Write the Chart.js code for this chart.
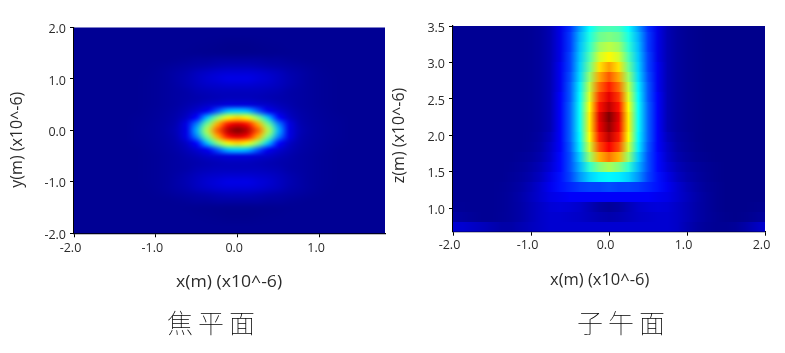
<!DOCTYPE html>
<html>
<head>
<meta charset="utf-8">
<script src="https://cdn.jsdelivr.net/npm/chart.js@4/dist/chart.umd.min.js"></script>
<style>
html, body { margin: 0; padding: 0; background: #fff; }
body { position: relative; width: 785px; height: 353px; overflow: hidden; }
canvas { position: absolute; left: 0; top: 0; }
.caption { position: absolute; top: 306px; font: 100 26px/32px "Noto Sans CJK SC", sans-serif; letter-spacing: 5px; color: #000; white-space: nowrap; }
</style>
</head>
<body>
<canvas id="focal" width="785" height="353"></canvas>
<canvas id="meridian" width="785" height="353"></canvas>
<div class="caption" style="left:167px">焦平面</div>
<div class="caption" style="left:577px">子午面</div>
<script>
// focal plane, percent of peak. rows run from y=2.0 down to y=-2.0, columns from x=-2.0 in steps of 0.125
const focalStepX = 0.125;
const focalStepY = 0.125;
const focalRows = [
  [2,2,2,2,2,2,2,2,2,2,2,2,2,2,2,2,2,2,2,2,2,2,2,2,2,2,2,2,2,2,2,2],
  [2,2,2,2,2,2,2,2,2,2,2,2,2,2,2,2,2,2,2,2,2,2,2,2,2,2,2,2,2,2,2,2],
  [2,2,2,2,2,2,2,2,2,2,2,2,2,1.9,1.8,1.6,1.6,1.6,1.8,1.9,2,2,2,2,2,2,2,2,2,2,2,2],
  [2,2,2,2,2,2,2,2,2,2,2,2,1.8,1.7,1.5,1.3,1.3,1.3,1.5,1.7,1.8,2,2,2,2,2,2,2,2,2,2,2],
  [2,2,2,2,2,2,2,2,2,2,2,1.9,1.8,1.7,1.6,1.5,1.5,1.5,1.6,1.7,1.8,1.9,2,2,2,2,2,2,2,2,2,2],
  [2,2,2,2,2,2,2,2,2,2,2.2,2.5,3,3,3.5,3.5,3.5,3.5,3.5,3,3,2.5,2.2,2,2,2,2,2,2,2,2,2],
  [2,2,2,2,2,2,2,2,2.2,2.5,3,3.5,4,4.5,5,5.5,5.5,5.5,5,4.5,4,3.5,3,2.5,2.2,2,2,2,2,2,2,2],
  [2,2,2,2,2,2,2,2.1,2.4,3,3.8,4.6,6,7,8,8.5,8.5,8.5,8,7,6,4.6,3.8,3,2.4,2.1,2,2,2,2,2,2],
  [2,2,2,2,2,2,2,2.2,2.5,3,4,5,6.5,8,9,10,10,10,9,8,6.5,5,4,3,2.5,2.2,2,2,2,2,2,2],
  [2,2,2,2,2,2,2,2.2,2.5,3,3.8,4.8,6,7,7.5,8,8,8,7.5,7,6,4.8,3.8,3,2.5,2.2,2,2,2,2,2,2],
  [2,2,2,2,2,2,2,2.2,2.5,3,3.5,4,5,5.5,6,6,6,6,6,5.5,5,4,3.5,3,2.5,2.2,2,2,2,2,2,2],
  [2,2,2,2,2,2,2,2.2,2.5,3,3.5,4,4.5,5,5.5,6,6,6,5.5,5,4.5,4,3.5,3,2.5,2.2,2,2,2,2,2,2],
  [2,2,2,2,2,2,2,2.2,2.5,3,3.5,4.5,5.5,7,8,9,9,9,8,7,5.5,4.5,3.5,3,2.5,2.2,2,2,2,2,2,2],
  [2,2,2,2,2,2,2,2.3,2.7,3.2,4,5.5,8,11,21,31,33,31,21,11,8,5.5,4,3.2,2.7,2.3,2,2,2,2,2,2],
  [2,2,2,2,2,2,2.2,2.4,2.8,3.4,4.5,7,13,31,50,61,66,61,50,31,13,7,4.5,3.4,2.8,2.4,2.2,2,2,2,2,2],
  [2,2,2,2,2,2,2.3,2.5,3,3.6,5,10,25,48,70,85,90,85,70,48,25,10,5,3.6,3,2.5,2.3,2,2,2,2,2],
  [2,2,2,2,2,2,2.3,2.6,3,3.8,5.5,10,30,55,78,94,100,94,78,55,30,10,5.5,3.8,3,2.6,2.3,2,2,2,2,2],
  [2,2,2,2,2,2,2.3,2.5,3,3.6,5,10,25,48,70,85,90,85,70,48,25,10,5,3.6,3,2.5,2.3,2,2,2,2,2],
  [2,2,2,2,2,2,2.2,2.4,2.8,3.4,4.5,7,13,31,50,61,66,61,50,31,13,7,4.5,3.4,2.8,2.4,2.2,2,2,2,2,2],
  [2,2,2,2,2,2,2,2.3,2.7,3.2,4,5.5,8,11,21,31,33,31,21,11,8,5.5,4,3.2,2.7,2.3,2,2,2,2,2,2],
  [2,2,2,2,2,2,2,2.2,2.5,3,3.5,4.5,5.5,7,8,9,9,9,8,7,5.5,4.5,3.5,3,2.5,2.2,2,2,2,2,2,2],
  [2,2,2,2,2,2,2,2.2,2.5,3,3.5,4,4.5,5,5.5,6,6,6,5.5,5,4.5,4,3.5,3,2.5,2.2,2,2,2,2,2,2],
  [2,2,2,2,2,2,2,2.2,2.5,3,3.5,4,5,5.5,6,6,6,6,6,5.5,5,4,3.5,3,2.5,2.2,2,2,2,2,2,2],
  [2,2,2,2,2,2,2,2.2,2.5,3,3.8,4.8,6,7,7.5,8,8,8,7.5,7,6,4.8,3.8,3,2.5,2.2,2,2,2,2,2,2],
  [2,2,2,2,2,2,2,2.2,2.5,3,4,5,6.5,8,9,10,10,10,9,8,6.5,5,4,3,2.5,2.2,2,2,2,2,2,2],
  [2,2,2,2,2,2,2,2.1,2.4,3,3.8,4.6,6,7,8,8.5,8.5,8.5,8,7,6,4.6,3.8,3,2.4,2.1,2,2,2,2,2,2],
  [2,2,2,2,2,2,2,2,2.2,2.5,3,3.5,4,4.5,5,5.5,5.5,5.5,5,4.5,4,3.5,3,2.5,2.2,2,2,2,2,2,2,2],
  [2,2,2,2,2,2,2,2,2,2,2.2,2.5,3,3,3.5,3.5,3.5,3.5,3.5,3,3,2.5,2.2,2,2,2,2,2,2,2,2,2],
  [2,2,2,2,2,2,2,2,2,2,2,1.9,1.8,1.7,1.6,1.5,1.5,1.5,1.6,1.7,1.8,1.9,2,2,2,2,2,2,2,2,2,2],
  [2,2,2,2,2,2,2,2,2,2,2,2,1.8,1.7,1.5,1.3,1.3,1.3,1.5,1.7,1.8,2,2,2,2,2,2,2,2,2,2,2],
  [2,2,2,2,2,2,2,2,2,2,2,2,2,1.9,1.8,1.6,1.6,1.6,1.8,1.9,2,2,2,2,2,2,2,2,2,2,2,2],
  [2,2,2,2,2,2,2,2,2,2,2,2,2,2,2,2,2,2,2,2,2,2,2,2,2,2,2,2,2,2,2,2],
  [2,2,2,2,2,2,2,2,2,2,2,2,2,2,2,2,2,2,2,2,2,2,2,2,2,2,2,2,2,2,2,2]
];

// meridian plane, percent of peak. rows run from z=3.486 down in steps of 0.1374
const meridianStepX = 0.125;
const meridianStepZ = 0.1374;
const meridianTopZ = 3.486;
const meridianRows = [
  [2,2,2,2,2,2,2,2,2.2,3,5,10,17,28,38,44,45,44,38,28,17,10,5,3,2,1.5,1.2,1.2,1.2,1.2,1.2,1.2,1.2],
  [2,2,2,2,2,2,2,2,2.2,3,5,10,18,30,40,48,50,48,40,30,18,10,5,3,2,1.5,1.2,1.2,1.2,1.2,1.2,1.2,1.2],
  [2,2,2,2,2,2,2,2,2.2,3,5,10,18,31,42,53,56,53,42,31,18,10,5,3,2,1.5,1.2,1.2,1.2,1.2,1.2,1.2,1.2],
  [2,2,2,2,2,2,2,2,2.2,3,5,10,19,32,45,58,63,58,45,32,19,10,5,3,2,1.5,1.2,1.2,1.2,1.2,1.2,1.2,1.2],
  [2,2,2,2,2,2,2,2,2.2,3,5,11,19,33,48,65,72,65,48,33,19,11,5,3,2,1.5,1.2,1.2,1.2,1.2,1.2,1.2,1.2],
  [2,2,2,2,2,2,2,2,2.2,3,5,11,20,34,52,71,79,71,52,34,20,11,5,3,2,1.5,1.2,1.2,1.2,1.2,1.2,1.2,1.2],
  [2,2,2,2,2,2,2,2,2.2,3,5,11,21,36,56,77,85,77,56,36,21,11,5,3,2,1.5,1.2,1.2,1.2,1.2,1.2,1.2,1.2],
  [2,2,2,2,2,2,2,2,2.2,3,5,12,21,37,59,82,90,82,59,37,21,12,5,3,2,1.5,1.2,1.2,1.2,1.2,1.2,1.2,1.2],
  [2,2,2,2,2,2,2,2,2.2,3,5,12,22,38,62,86,94,86,62,38,22,12,5,3,2,1.5,1.2,1.2,1.2,1.2,1.2,1.2,1.2],
  [2,2,2,2,2,2,2,2,2.2,3,5,12,22,38,64,90,100,90,64,38,22,12,5,3,2,1.5,1.2,1.2,1.2,1.2,1.2,1.2,1.2],
  [2,2,2,2,2,2,2,2,2.2,3,5,12,22,38,64,89,98,89,64,38,22,12,5,3,2,1.5,1.2,1.2,1.2,1.2,1.2,1.2,1.2],
  [2,2,2,2,2,2,2,2,2.3,3.4,6,12,22,37,62,85,94,85,62,37,22,12,6,3.4,2.3,1.5,1.2,1.2,1.2,1.2,1.2,1.2,1.2],
  [2,2,2,2,2,2,2,2,2.5,3.8,7,12,21,36,58,80,88,80,58,36,21,12,7,3.8,2.5,1.7,1.2,1.2,1.2,1.2,1.2,1.2,1.2],
  [2,2,2,2,2,2,2,2.4,3,4.5,7.5,13,20,33,52,70,76,70,52,33,20,13,7.5,4.5,3,2,1.5,1.2,1.2,1.2,1.2,1.2,1.2],
  [2,2,2,2,2,2,2.2,2.8,3.8,5.5,8.5,13,20,30,42,50,54,50,42,30,20,13,8.5,5.5,3.8,2.8,2,1.5,1.2,1.2,1.2,1.2,1.2],
  [2,2,2,2,2,2,2.5,3.2,4.5,6.5,10,14,19,27,33,36,37,36,33,27,19,14,10,6.5,4.5,3.2,2.2,1.5,1.2,1.2,1.2,1.2,1.2],
  [2,2,2,2,2,2.2,2.8,3.8,5.5,8,11,14,16,18,19,19,20,19,19,18,16,14,11,8,5.5,3.8,2.5,1.8,1.2,1.2,1.2,1.2,1.2],
  [2,2,2,2,2,2.3,3,4.2,6,8,10,11,12,12,12,12,12,12,12,12,12,11,10,8,6,4.2,2.8,1.8,1.2,1.2,1.2,1.2,1.2],
  [2.4,2.2,2,2,2,2.3,3,4,5.5,7,8.5,9,8.5,7.5,5.5,3.5,2.5,3.5,5.5,7.5,8.5,9,8.5,7,5.5,4,2.8,1.8,1.2,1.2,1.2,1.5,1.8],
  [3.5,3,2.4,2,2,2.4,3,4,5.5,7,8,8,7.5,7,6,5,4.5,5,6,7,7.5,8,8,7,5.5,4,2.8,2,1.4,1.2,1.5,2.2,3],
  [8,8,7,6,5,4,4,5,6,7,8,8,8,8,8,8,8,8,8,8,8,8,8,7,5,3.5,2.5,2,2,2.5,4,6,8]
];

const focalXRange = [-2, 1.8];
const focalYRange = [-2, 2];
const meridianXRange = [-2, 2];
const meridianZRange = [0.68, 3.5];

const axisTitleX = 'x(m) (x10^-6)';
const focalTitleY = 'y(m) (x10^-6)';
const meridianTitleY = 'z(m) (x10^-6)';

// jet palette
function jet(p) {
  const v = p / 100;
  const ch = (c) => Math.round(255 * Math.max(0, Math.min(1, 1.5 - Math.abs(4 * v - c))));
  return [ch(3), ch(2), ch(1)];
}

function buildCells(rows, x0, y0, dx, dy) {
  const cells = [];
  rows.forEach((row, r) => row.forEach((v, c) => cells.push({ x: x0 + c * dx, y: y0 - r * dy, v: v })));
  return cells;
}

// paints the cells as one stretched image, placed by the chart's scales
const heatPlugin = {
  id: 'heat',
  beforeDatasetsDraw(chart, args, opts) {
    const ds = chart.data.datasets[0];
    const nRows = opts.rows;
    const nCols = ds.data.length / nRows;
    const src = document.createElement('canvas');
    src.width = nCols;
    src.height = nRows;
    const sctx = src.getContext('2d');
    ds.data.forEach((p, i) => {
      const rgb = jet(p.v);
      sctx.fillStyle = 'rgb(' + rgb.join(',') + ')';
      sctx.fillRect(i % nCols, Math.floor(i / nCols), 1, 1);
    });
    const first = ds.data[0];
    const last = ds.data[ds.data.length - 1];
    const left = chart.scales.x.getPixelForValue(first.x - opts.dx / 2);
    const right = chart.scales.x.getPixelForValue(last.x + opts.dx / 2);
    const top = chart.scales.y.getPixelForValue(first.y + opts.dy / 2);
    const bottom = chart.scales.y.getPixelForValue(last.y - opts.dy / 2);
    const ctx = chart.ctx;
    const area = chart.chartArea;
    ctx.save();
    ctx.beginPath();
    ctx.rect(area.left, area.top, area.right - area.left, area.bottom - area.top);
    ctx.clip();
    if (opts.blocky) {
      // smooth across x only, rows stay as flat bands
      const mid = document.createElement('canvas');
      mid.width = Math.round(right - left);
      mid.height = nRows;
      const mctx = mid.getContext('2d');
      mctx.imageSmoothingEnabled = true;
      mctx.imageSmoothingQuality = 'high';
      mctx.drawImage(src, 0, 0, mid.width, nRows);
      ctx.imageSmoothingEnabled = false;
      ctx.drawImage(mid, left, top, right - left, bottom - top);
    } else {
      ctx.imageSmoothingEnabled = true;
      ctx.imageSmoothingQuality = 'high';
      ctx.drawImage(src, left, top, right - left, bottom - top);
    }
    ctx.restore();
  }
};

// axis titles sit off centre in the original, so they are placed by hand
const titlePlugin = {
  id: 'axisTitles',
  afterDraw(chart, args, opts) {
    const ctx = chart.ctx;
    ctx.save();
    ctx.fillStyle = '#2b2b2b';
    ctx.font = '16px "Open Sans"';
    ctx.textAlign = 'center';
    ctx.textBaseline = 'middle';
    ctx.save();
    ctx.translate(chart.scales.x.getPixelForValue(opts.xAt), opts.xTop);
    ctx.scale(opts.xStretch, 1);
    ctx.fillText(axisTitleX, 0, 0);
    ctx.restore();
    ctx.translate(opts.yLeft, chart.scales.y.getPixelForValue(opts.yAt));
    ctx.rotate(-Math.PI / 2);
    ctx.fillText(opts.yText, 0, 0);
    ctx.restore();
  }
};

function axis(range, step, offset, pad) {
  return {
    type: 'linear',
    min: range[0],
    max: range[1],
    border: { color: '#000', width: 1.2 },
    grid: { display: true, drawOnChartArea: false, color: '#000', tickLength: 4 },
    ticks: {
      stepSize: step,
      includeBounds: false,
      autoSkip: false,
      maxRotation: 0,
      padding: pad,
      labelOffset: offset,
      color: '#2b2b2b',
      font: { family: '"Open Sans"', size: 12.5 },
      callback: (v) => v.toFixed(1)
    }
  };
}

function heatChart(id, cells, padding, xAxis, yAxis, heat, titles) {
  xAxis.afterFit = (s) => { s.height = 30; };
  yAxis.afterFit = (s) => { s.width = 40; };
  return new Chart(document.getElementById(id), {
    type: 'scatter',
    data: { datasets: [{ data: cells, pointRadius: 0 }] },
    options: {
      responsive: false,
      animation: false,
      events: [],
      layout: { padding: padding },
      scales: { x: xAxis, y: yAxis },
      plugins: {
        legend: { display: false },
        tooltip: { enabled: false },
        heat: heat,
        axisTitles: titles
      }
    },
    plugins: [heatPlugin, titlePlugin]
  });
}

const focalChart = heatChart(
  'focal',
  buildCells(focalRows, -2, 2, focalStepX, focalStepY),
  { left: 34, right: 400, top: 27.5, bottom: 89.7 },
  axis(focalXRange, 1, -3.5, 4),
  axis(focalYRange, 1, 2, 4),
  { rows: focalRows.length, dx: focalStepX, dy: focalStepY, blocky: false },
  { xAt: -0.105, xTop: 282, xStretch: 1.1, yAt: -0.18, yLeft: 17, yText: focalTitleY }
);

const meridianChart = heatChart(
  'meridian',
  buildCells(meridianRows, -2, meridianTopZ, meridianStepX, meridianStepZ),
  { left: 413, right: 20, top: 26, bottom: 91.3 },
  axis(meridianXRange, 1, -3.5, 2),
  axis(meridianZRange, 0.5, 2, 4),
  { rows: meridianRows.length, dx: meridianStepX, dy: meridianStepZ, blocky: true },
  { xAt: -0.12, xTop: 280, xStretch: 1.03, yAt: 2.0, yLeft: 399, yText: meridianTitleY }
);
</script>
</body>
</html>
